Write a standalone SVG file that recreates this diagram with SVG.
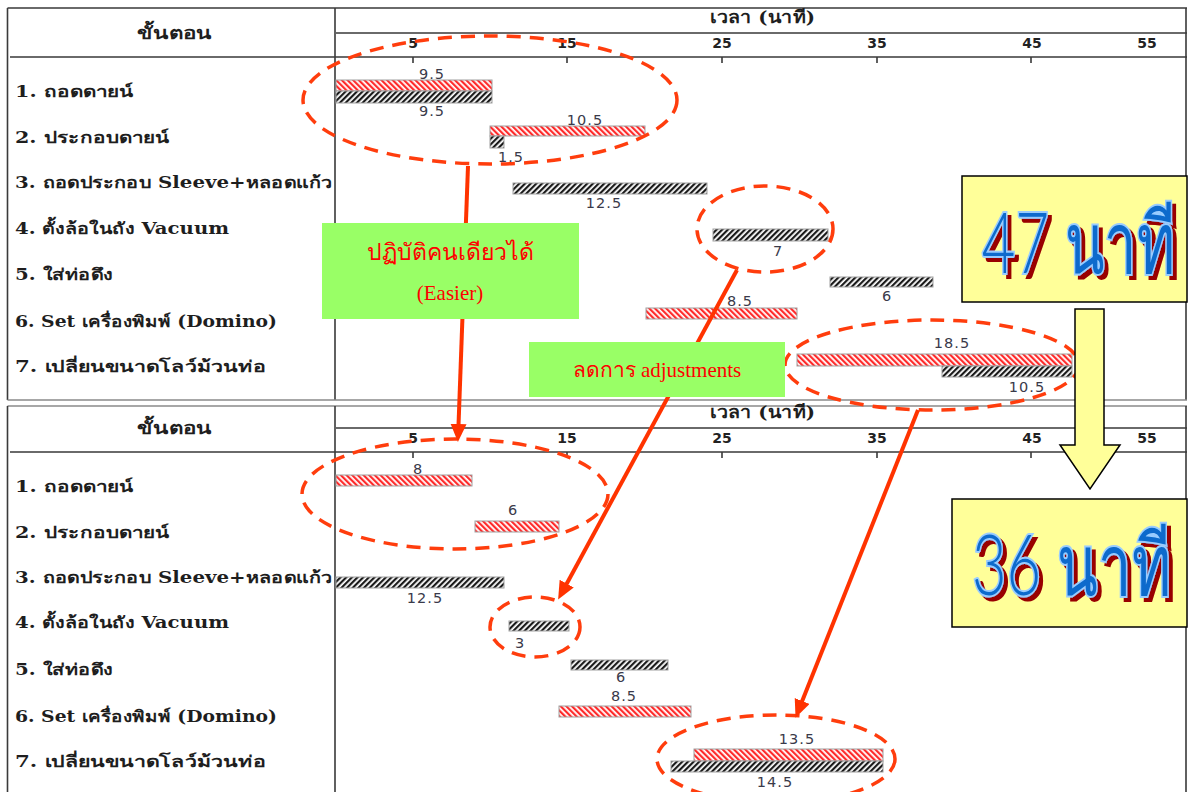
<svg xmlns="http://www.w3.org/2000/svg" width="1188" height="792" viewBox="0 0 1188 792">
  <style>
    .grid { stroke: #3a3a3a; stroke-width: 1.6; fill: none; }
    .thin { stroke: #8a8a8a; stroke-width: 1.4; fill: none; }
    .head { font-family: 'DejaVu Serif', 'Noto Sans', serif; font-weight: bold; font-size: 17px; fill: #1e1e1e; }
    .row { font-family: 'DejaVu Serif', 'Noto Sans', serif; font-weight: bold; font-size: 16px; fill: #1e1e1e; }
    .tick { font-family: 'DejaVu Sans', sans-serif; font-weight: bold; font-size: 14px; fill: #222; text-anchor: middle; }
    .val { font-family: 'DejaVu Sans', 'Liberation Sans', sans-serif; font-size: 14.5px; fill: #3a3a4a; text-anchor: middle; letter-spacing: 1px; }
    .barR { fill: url(#hatchRed); stroke: #a0a0a0; stroke-width: 1; }
    .barK { fill: url(#hatchBlack); stroke: #a0a0a0; stroke-width: 1; }
    .ring { fill: none; stroke: #ff3d0d; stroke-width: 3.5; stroke-dasharray: 14 9; }
    .link { stroke: #ff3300; stroke-width: 4; fill: none; marker-end: url(#tip); }
    .note { fill: #99ff66; }
    .noteText { font-family: 'Liberation Serif', 'DejaVu Serif', serif; fill: #ff0000; text-anchor: middle; }
    .sum { fill: #ffff99; stroke: #000; stroke-width: 1.5; }
    .big { font-family: 'Lato', 'Liberation Sans', sans-serif; font-weight: 300; font-size: 84px; fill: #0a6acc; stroke: #99ccff; stroke-width: 4; paint-order: stroke; filter: url(#dropRed); }
  </style>
  <defs>
    <pattern id="hatchRed" width="4" height="4" patternUnits="userSpaceOnUse" patternTransform="rotate(-45)">
      <rect width="4" height="4" fill="#ffffff"/>
      <rect width="2.2" height="4" fill="#ff2a2a"/>
    </pattern>
    <pattern id="hatchBlack" width="4" height="4" patternUnits="userSpaceOnUse" patternTransform="rotate(45)">
      <rect width="4" height="4" fill="#ffffff"/>
      <rect width="2.2" height="4" fill="#1a1a1a"/>
    </pattern>
    <marker id="tip" markerUnits="userSpaceOnUse" markerWidth="20" markerHeight="18" refX="4" refY="8" orient="auto">
      <path d="M0,0 L18,8 L0,16 z" fill="#ff3300"/>
    </marker>
    <!-- dark red drop shadow behind the outlined totals -->
    <filter id="dropRed" x="-10%" y="-30%" width="130%" height="160%">
      <feOffset in="SourceAlpha" dx="6" dy="4" result="off"/>
      <feFlood flood-color="#990000"/>
      <feComposite operator="in" in2="off" result="shade"/>
      <feMerge>
        <feMergeNode in="shade"/>
        <feMergeNode in="SourceGraphic"/>
      </feMerge>
    </filter>
  </defs>

  <rect x="0" y="0" width="1188" height="792" fill="#ffffff"/>

  <!-- upper chart frame -->
  <g id="frame-before">
    <path class="grid" d="M7.5,8 H1187 M7.5,8 V400 M1186,8 V400 M335,8 V400 M336,33 H1187 M10,57 H1187"/>
    <path class="grid" d="M413,57 V63 M567,57 V63 M722,57 V63 M877,57 V63 M1031,57 V63"/>
    <text class="head" x="137" y="39" textLength="75" lengthAdjust="spacingAndGlyphs">ขั้นตอน</text>
    <text class="head" x="710" y="23" textLength="105" lengthAdjust="spacingAndGlyphs">เวลา (นาที)</text>
    <text class="tick" x="413" y="48">5</text>
    <text class="tick" x="567" y="48">15</text>
    <text class="tick" x="722" y="48">25</text>
    <text class="tick" x="877" y="48">35</text>
    <text class="tick" x="1032" y="48">45</text>
    <text class="tick" x="1147" y="48">55</text>
  </g>

  <!-- lower chart frame -->
  <g id="frame-after">
    <path class="thin" d="M7.5,400 H1187 M7.5,406 H1187"/>
    <path class="grid" d="M7.5,406 V792 M1186,406 V792 M335,406 V792 M336,428 H1187 M10,452 H1187"/>
    <path class="grid" d="M413,452 V458 M567,452 V458 M722,452 V458 M877,452 V458 M1031,452 V458"/>
    <text class="head" x="137" y="434" textLength="75" lengthAdjust="spacingAndGlyphs">ขั้นตอน</text>
    <text class="head" x="710" y="418" textLength="105" lengthAdjust="spacingAndGlyphs">เวลา (นาที)</text>
    <text class="tick" x="413" y="443">5</text>
    <text class="tick" x="567" y="443">15</text>
    <text class="tick" x="722" y="443">25</text>
    <text class="tick" x="877" y="443">35</text>
    <text class="tick" x="1032" y="443">45</text>
    <text class="tick" x="1147" y="443">55</text>
  </g>

  <!-- upper chart: steps and bars -->
  <g id="before-step1">
    <text class="row" x="15" y="97" textLength="118" lengthAdjust="spacingAndGlyphs">1. ถอดดายน์</text>
    <rect class="barR" x="336" y="80" width="156" height="11"/>
    <rect class="barK" x="336" y="91" width="156" height="12"/>
    <text class="val" x="432" y="79">9.5</text>
    <text class="val" x="432" y="116">9.5</text>
  </g>
  <g id="before-step2">
    <text class="row" x="15" y="143" textLength="154" lengthAdjust="spacingAndGlyphs">2. ประกอบดายน์</text>
    <rect class="barR" x="490" y="126" width="155" height="10"/>
    <rect class="barK" x="490" y="136" width="14" height="12"/>
    <text class="val" x="585" y="125">10.5</text>
    <text class="val" x="511" y="162">1.5</text>
  </g>
  <g id="before-step3">
    <text class="row" x="15" y="188" textLength="317" lengthAdjust="spacingAndGlyphs">3. ถอดประกอบ Sleeve+หลอดแก้ว</text>
    <rect class="barK" x="513" y="183" width="194" height="11"/>
    <text class="val" x="604" y="208">12.5</text>
  </g>
  <g id="before-step4">
    <text class="row" x="15" y="234" textLength="214" lengthAdjust="spacingAndGlyphs">4. ตั้งล้อในถัง Vacuum</text>
    <rect class="barK" x="713" y="229" width="115" height="12"/>
    <text class="val" x="778" y="256">7</text>
  </g>
  <g id="before-step5">
    <text class="row" x="15" y="280" textLength="98" lengthAdjust="spacingAndGlyphs">5. ใส่ท่อดึง</text>
    <rect class="barK" x="830" y="277" width="103" height="10"/>
    <text class="val" x="887" y="301">6</text>
  </g>
  <g id="before-step6">
    <text class="row" x="15" y="327" textLength="262" lengthAdjust="spacingAndGlyphs">6. Set เครื่องพิมพ์ (Domino)</text>
    <rect class="barR" x="646" y="308" width="151" height="11"/>
    <text class="val" x="740" y="306">8.5</text>
  </g>
  <g id="before-step7">
    <text class="row" x="15" y="372" textLength="251" lengthAdjust="spacingAndGlyphs">7. เปลี่ยนขนาดโลว์ม้วนท่อ</text>
    <rect class="barR" x="797" y="354" width="275" height="12"/>
    <rect class="barK" x="942" y="366" width="130" height="11"/>
    <text class="val" x="952" y="348">18.5</text>
    <text class="val" x="1027" y="392">10.5</text>
  </g>

  <!-- lower chart: steps and bars -->
  <g id="after-step1">
    <text class="row" x="15" y="492" textLength="118" lengthAdjust="spacingAndGlyphs">1. ถอดดายน์</text>
    <rect class="barR" x="336" y="475" width="136" height="11"/>
    <text class="val" x="418" y="474">8</text>
  </g>
  <g id="after-step2">
    <text class="row" x="15" y="538" textLength="154" lengthAdjust="spacingAndGlyphs">2. ประกอบดายน์</text>
    <rect class="barR" x="475" y="521" width="84" height="11"/>
    <text class="val" x="513" y="515">6</text>
  </g>
  <g id="after-step3">
    <text class="row" x="15" y="583" textLength="317" lengthAdjust="spacingAndGlyphs">3. ถอดประกอบ Sleeve+หลอดแก้ว</text>
    <rect class="barK" x="336" y="577" width="168" height="11"/>
    <text class="val" x="425" y="603">12.5</text>
  </g>
  <g id="after-step4">
    <text class="row" x="15" y="628" textLength="214" lengthAdjust="spacingAndGlyphs">4. ตั้งล้อในถัง Vacuum</text>
    <rect class="barK" x="509" y="621" width="60" height="10"/>
    <text class="val" x="520" y="648">3</text>
  </g>
  <g id="after-step5">
    <text class="row" x="15" y="675" textLength="98" lengthAdjust="spacingAndGlyphs">5. ใส่ท่อดึง</text>
    <rect class="barK" x="571" y="660" width="97" height="10"/>
    <text class="val" x="621" y="682">6</text>
  </g>
  <g id="after-step6">
    <text class="row" x="15" y="722" textLength="262" lengthAdjust="spacingAndGlyphs">6. Set เครื่องพิมพ์ (Domino)</text>
    <rect class="barR" x="559" y="706" width="132" height="11"/>
    <text class="val" x="624" y="701">8.5</text>
  </g>
  <g id="after-step7">
    <text class="row" x="15" y="767" textLength="251" lengthAdjust="spacingAndGlyphs">7. เปลี่ยนขนาดโลว์ม้วนท่อ</text>
    <rect class="barR" x="694" y="749" width="189" height="12"/>
    <rect class="barK" x="671" y="761" width="212" height="11"/>
    <text class="val" x="797" y="744">13.5</text>
    <text class="val" x="775" y="787">14.5</text>
  </g>

  <!-- highlight rings -->
  <g id="rings">
    <ellipse class="ring" cx="490" cy="100" rx="187" ry="64"/>
    <ellipse class="ring" cx="765" cy="229" rx="68" ry="43"/>
    <ellipse class="ring" cx="932" cy="365" rx="147" ry="45"/>
    <ellipse class="ring" cx="455" cy="494" rx="153" ry="55"/>
    <ellipse class="ring" cx="535" cy="627" rx="45" ry="30"/>
    <ellipse class="ring" cx="776" cy="759" rx="119" ry="44"/>
  </g>

  <!-- connectors -->
  <g id="connectors">
    <line class="link" x1="468" y1="166" x2="458.4" y2="428"/>
    <line class="link" x1="737" y1="270" x2="564.8" y2="587.2"/>
    <line class="link" x1="918" y1="410" x2="800.7" y2="704.7"/>
  </g>

  <!-- notes -->
  <g id="note-easier">
    <rect class="note" x="322" y="223" width="257" height="96"/>
    <text class="noteText" x="450" y="260" font-size="23">ปฏิบัติคนเดียวได้</text>
    <text class="noteText" x="450" y="300" font-size="21">(Easier)</text>
  </g>
  <g id="note-adjust">
    <rect class="note" x="529" y="342" width="256" height="55"/>
    <text class="noteText" x="657" y="377" font-size="21">ลดการ adjustments</text>
  </g>

  <!-- totals -->
  <g id="total-before">
    <rect class="sum" x="962" y="176" width="225" height="126"/>
    <text class="big" x="1423" y="273" transform="scale(0.69,1)">47 นาที</text>
  </g>
  <g id="down-arrow">
    <path class="sum" d="M1075,309 H1104 V445 H1120 L1090,489 L1060,445 H1075 Z"/>
  </g>
  <g id="total-after">
    <rect class="sum" x="952" y="499" width="235" height="128"/>
    <text class="big" x="1369" y="595" transform="scale(0.71,1)">36 นาที</text>
  </g>
</svg>
